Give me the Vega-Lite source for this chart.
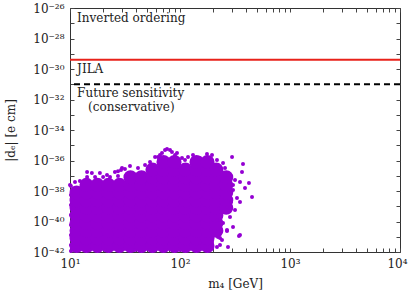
{
  "$schema": "https://vega.github.io/schema/vega-lite/v6.json",
  "width": 330,
  "height": 244,
  "autosize": {"type": "none"},
  "padding": {"left": 70, "top": 8, "right": 9, "bottom": 41},
  "background": "white",
  "config": {
    "view": {"stroke": "#333333", "strokeWidth": 1},
    "font": "DejaVu Serif",
    "axis": {"grid": false, "domain": false, "tickColor": "#444444", "labelFont": "DejaVu Serif", "labelFontSize": 12, "labelColor": "#222222", "titleFont": "DejaVu Serif", "titleFontSize": 12, "titleFontWeight": "normal", "titleColor": "#222222"}
  },
  "datasets": {
    "core": [
      {"m": 11.48, "d": 2.51e-42}, {"m": 11.48, "d": 7.94e-42}, {"m": 11.48, "d": 2.51e-41}, {"m": 11.48, "d": 7.94e-41}, {"m": 11.48, "d": 2.51e-40}, {"m": 11.48, "d": 7.94e-40}, {"m": 11.48, "d": 2.51e-39}, {"m": 11.48, "d": 7.94e-39},
      {"m": 14.13, "d": 2.51e-42}, {"m": 14.13, "d": 7.94e-42}, {"m": 14.13, "d": 2.51e-41}, {"m": 14.13, "d": 7.94e-41}, {"m": 14.13, "d": 2.51e-40}, {"m": 14.13, "d": 7.94e-40}, {"m": 14.13, "d": 2.51e-39}, {"m": 14.13, "d": 7.94e-39}, {"m": 14.13, "d": 2.51e-38},
      {"m": 17.78, "d": 2.51e-42}, {"m": 17.78, "d": 7.94e-42}, {"m": 17.78, "d": 2.51e-41}, {"m": 17.78, "d": 7.94e-41}, {"m": 17.78, "d": 2.51e-40}, {"m": 17.78, "d": 7.94e-40}, {"m": 17.78, "d": 2.51e-39}, {"m": 17.78, "d": 7.94e-39}, {"m": 17.78, "d": 2.51e-38},
      {"m": 22.39, "d": 2.51e-42}, {"m": 22.39, "d": 7.94e-42}, {"m": 22.39, "d": 2.51e-41}, {"m": 22.39, "d": 7.94e-41}, {"m": 22.39, "d": 2.51e-40}, {"m": 22.39, "d": 7.94e-40}, {"m": 22.39, "d": 2.51e-39}, {"m": 22.39, "d": 7.94e-39}, {"m": 22.39, "d": 2.51e-38},
      {"m": 28.18, "d": 2.51e-42}, {"m": 28.18, "d": 7.94e-42}, {"m": 28.18, "d": 2.51e-41}, {"m": 28.18, "d": 7.94e-41}, {"m": 28.18, "d": 2.51e-40}, {"m": 28.18, "d": 7.94e-40}, {"m": 28.18, "d": 2.51e-39}, {"m": 28.18, "d": 7.94e-39}, {"m": 28.18, "d": 2.51e-38},
      {"m": 35.48, "d": 2.51e-42}, {"m": 35.48, "d": 7.94e-42}, {"m": 35.48, "d": 2.51e-41}, {"m": 35.48, "d": 7.94e-41}, {"m": 35.48, "d": 2.51e-40}, {"m": 35.48, "d": 7.94e-40}, {"m": 35.48, "d": 2.51e-39}, {"m": 35.48, "d": 7.94e-39}, {"m": 35.48, "d": 2.51e-38}, {"m": 35.48, "d": 7.94e-38},
      {"m": 44.67, "d": 2.51e-42}, {"m": 44.67, "d": 7.94e-42}, {"m": 44.67, "d": 2.51e-41}, {"m": 44.67, "d": 7.94e-41}, {"m": 44.67, "d": 2.51e-40}, {"m": 44.67, "d": 7.94e-40}, {"m": 44.67, "d": 2.51e-39}, {"m": 44.67, "d": 7.94e-39}, {"m": 44.67, "d": 2.51e-38}, {"m": 44.67, "d": 7.94e-38},
      {"m": 56.23, "d": 2.51e-42}, {"m": 56.23, "d": 7.94e-42}, {"m": 56.23, "d": 2.51e-41}, {"m": 56.23, "d": 7.94e-41}, {"m": 56.23, "d": 2.51e-40}, {"m": 56.23, "d": 7.94e-40}, {"m": 56.23, "d": 2.51e-39}, {"m": 56.23, "d": 7.94e-39}, {"m": 56.23, "d": 2.51e-38}, {"m": 56.23, "d": 7.94e-38}, {"m": 56.23, "d": 2.51e-37},
      {"m": 70.79, "d": 2.51e-42}, {"m": 70.79, "d": 7.94e-42}, {"m": 70.79, "d": 2.51e-41}, {"m": 70.79, "d": 7.94e-41}, {"m": 70.79, "d": 2.51e-40}, {"m": 70.79, "d": 7.94e-40}, {"m": 70.79, "d": 2.51e-39}, {"m": 70.79, "d": 7.94e-39}, {"m": 70.79, "d": 2.51e-38}, {"m": 70.79, "d": 7.94e-38}, {"m": 70.79, "d": 2.51e-37}, {"m": 70.79, "d": 7.94e-37},
      {"m": 89.13, "d": 2.51e-42}, {"m": 89.13, "d": 7.94e-42}, {"m": 89.13, "d": 2.51e-41}, {"m": 89.13, "d": 7.94e-41}, {"m": 89.13, "d": 2.51e-40}, {"m": 89.13, "d": 7.94e-40}, {"m": 89.13, "d": 2.51e-39}, {"m": 89.13, "d": 7.94e-39}, {"m": 89.13, "d": 2.51e-38}, {"m": 89.13, "d": 7.94e-38}, {"m": 89.13, "d": 2.51e-37}, {"m": 89.13, "d": 7.94e-37},
      {"m": 112.2, "d": 2.51e-42}, {"m": 112.2, "d": 7.94e-42}, {"m": 112.2, "d": 2.51e-41}, {"m": 112.2, "d": 7.94e-41}, {"m": 112.2, "d": 2.51e-40}, {"m": 112.2, "d": 7.94e-40}, {"m": 112.2, "d": 2.51e-39}, {"m": 112.2, "d": 7.94e-39}, {"m": 112.2, "d": 2.51e-38}, {"m": 112.2, "d": 7.94e-38}, {"m": 112.2, "d": 2.51e-37},
      {"m": 141.3, "d": 2.51e-42}, {"m": 141.3, "d": 7.94e-42}, {"m": 141.3, "d": 2.51e-41}, {"m": 141.3, "d": 7.94e-41}, {"m": 141.3, "d": 2.51e-40}, {"m": 141.3, "d": 7.94e-40}, {"m": 141.3, "d": 2.51e-39}, {"m": 141.3, "d": 7.94e-39}, {"m": 141.3, "d": 2.51e-38}, {"m": 141.3, "d": 7.94e-38}, {"m": 141.3, "d": 2.51e-37}, {"m": 141.3, "d": 7.94e-37},
      {"m": 177.8, "d": 2.51e-42}, {"m": 177.8, "d": 7.94e-42}, {"m": 177.8, "d": 2.51e-41}, {"m": 177.8, "d": 7.94e-41}, {"m": 177.8, "d": 2.51e-40}, {"m": 177.8, "d": 7.94e-40}, {"m": 177.8, "d": 2.51e-39}, {"m": 177.8, "d": 7.94e-39}, {"m": 177.8, "d": 2.51e-38}, {"m": 177.8, "d": 7.94e-38}, {"m": 177.8, "d": 2.51e-37}, {"m": 177.8, "d": 7.94e-37},
      {"m": 213.8, "d": 2.51e-41}, {"m": 213.8, "d": 7.94e-41}, {"m": 213.8, "d": 2.51e-40}, {"m": 213.8, "d": 7.94e-40}, {"m": 213.8, "d": 2.51e-39}, {"m": 213.8, "d": 7.94e-39}, {"m": 213.8, "d": 2.51e-38}, {"m": 213.8, "d": 7.94e-38}, {"m": 213.8, "d": 2.51e-37},
      {"m": 263.0, "d": 7.94e-40}, {"m": 263.0, "d": 2.51e-39}, {"m": 263.0, "d": 7.94e-39}, {"m": 263.0, "d": 2.51e-38}, {"m": 263.0, "d": 7.94e-38}
    ],
    "edge": [
      {"m": 10.0, "d": 2.5e-38}, {"m": 11.1, "d": 3.9e-38}, {"m": 12.3, "d": 4.5e-38}, {"m": 14.3, "d": 1.78e-37}, {"m": 15.8, "d": 1.5e-37}, {"m": 18.7, "d": 1.5e-37}, {"m": 21.7, "d": 1.12e-37}, {"m": 25.6, "d": 1.78e-37}, {"m": 29.7, "d": 3.2e-37}, {"m": 35.1, "d": 4.4e-37},
      {"m": 41.5, "d": 3.2e-37}, {"m": 48.1, "d": 5.0e-37}, {"m": 53.4, "d": 7.9e-37}, {"m": 59.3, "d": 1.7e-36}, {"m": 65.8, "d": 2.3e-36}, {"m": 76.2, "d": 5.6e-36}, {"m": 84.5, "d": 3.6e-36}, {"m": 93.9, "d": 3.1e-36}, {"m": 104.3, "d": 1.45e-36}, {"m": 111.0, "d": 1.07e-36},
      {"m": 131.2, "d": 2.3e-36}, {"m": 152.0, "d": 1.45e-36}, {"m": 175.9, "d": 2.7e-36}, {"m": 195.4, "d": 2.3e-36}, {"m": 216.9, "d": 1.07e-36}, {"m": 246.2, "d": 6.9e-37}, {"m": 297.2, "d": 1.7e-36}, {"m": 366.2, "d": 1.78e-37}, {"m": 373.9, "d": 5.9e-37}, {"m": 423.6, "d": 3.3e-38},
      {"m": 451.6, "d": 4.1e-39}, {"m": 389.8, "d": 1.58e-38}, {"m": 303.4, "d": 1.17e-38}, {"m": 329.6, "d": 3.5e-39}, {"m": 273.1, "d": 1.5e-37}, {"m": 256.6, "d": 3.2e-37}, {"m": 351.1, "d": 1.9e-39}, {"m": 316.2, "d": 5.7e-40}, {"m": 284.8, "d": 2.0e-40}, {"m": 351.1, "d": 1.3e-41},
      {"m": 303.4, "d": 4.4e-41}, {"m": 267.5, "d": 2.8e-41}, {"m": 231.0, "d": 8.3e-42}, {"m": 273.1, "d": 2.1e-42}, {"m": 216.9, "d": 2.1e-42}, {"m": 195.4, "d": 4.5e-42}, {"m": 246.2, "d": 7.9e-41}, {"m": 240.9, "d": 4.2e-40}, {"m": 216.9, "d": 1.26e-40}, {"m": 267.5, "d": 8.9e-40},
      {"m": 291.0, "d": 1.9e-39}, {"m": 199.5, "d": 1.3e-41}, {"m": 221.4, "d": 9.6e-42}, {"m": 240.9, "d": 6.2e-42}, {"m": 231.0, "d": 2.9e-42}, {"m": 343.6, "d": 1.12e-41}, {"m": 267.5, "d": 2.4e-41}, {"m": 152.0, "d": 3.9e-42},
      {"m": 10.2, "d": 2.1e-38}, {"m": 10.2, "d": 5.5e-39}, {"m": 10.2, "d": 1.2e-39}, {"m": 10.2, "d": 2.7e-40}, {"m": 10.2, "d": 5.9e-41}, {"m": 10.2, "d": 1.3e-41}, {"m": 10.2, "d": 2.9e-42}, {"m": 10.2, "d": 1.17e-42},
      {"m": 11.1, "d": 1.35e-42}, {"m": 15.2, "d": 1.35e-42}, {"m": 20.8, "d": 1.35e-42}, {"m": 28.5, "d": 1.35e-42}, {"m": 39.0, "d": 1.35e-42}, {"m": 53.4, "d": 1.35e-42}, {"m": 73.1, "d": 1.35e-42}, {"m": 100, "d": 1.35e-42}, {"m": 136.8, "d": 1.35e-42}, {"m": 179.8, "d": 1.35e-42},
      {"m": 208, "d": 5.0e-37}, {"m": 316.2, "d": 5.2e-38}, {"m": 303.4, "d": 2.5e-38}, {"m": 351.1, "d": 3.9e-38},
      {"m": 73.1, "d": 4.9e-36}, {"m": 81.1, "d": 4.9e-36}, {"m": 68.6, "d": 3.1e-36}, {"m": 90.1, "d": 2.3e-36}, {"m": 63.0, "d": 1.7e-36}, {"m": 118.3, "d": 1.7e-36},
      {"m": 27.3, "d": 2.0e-37}, {"m": 29.1, "d": 2.4e-37}, {"m": 31.6, "d": 2.8e-37}, {"m": 27.3, "d": 9.5e-38},
      {"m": 14.3, "d": 8.3e-38}, {"m": 16.9, "d": 8.3e-38}, {"m": 20.0, "d": 8.3e-38}, {"m": 23.1, "d": 8.3e-38}
    ]
  },
  "layer": [
    {
      "data": {"name": "core"},
      "mark": {"type": "circle", "size": 200, "color": "#9400d3", "opacity": 1},
      "encoding": {
        "x": {"field": "m", "type": "quantitative", "scale": {"type": "log", "domain": [10, 10000]},
          "axis": {"orient": "bottom", "values": [10,20,30,40,50,60,70,80,90,100,200,300,400,500,600,700,800,900,1000,2000,3000,4000,5000,6000,7000,8000,9000,10000],
            "labelExpr": "datum.value == 10 ? '10¹' : datum.value == 100 ? '10²' : datum.value == 1000 ? '10³' : datum.value == 10000 ? '10⁴' : ''",
            "labelOffset": {"condition": {"test": "datum.value == 10000", "value": -3}, "value": 0},
            "tickSize": -4, "labelPadding": 10, "labelFlush": false, "labelOverlap": false,
            "title": "m₄ [GeV]", "titleY": 31, "titleBaseline": "middle"}},
        "y": {"field": "d", "type": "quantitative", "scale": {"type": "log", "domain": [1e-42, 1e-26]},
          "axis": {"orient": "left", "values": [1e-42,1e-41,1e-40,1e-39,1e-38,1e-37,1e-36,1e-35,1e-34,1e-33,1e-32,1e-31,1e-30,1e-29,1e-28,1e-27,1e-26],
            "labelExpr": "indexof([1e-42,1e-40,1e-38,1e-36,1e-34,1e-32,1e-30,1e-28,1e-26], datum.value) < 0 ? '' : ['10⁻⁴²','10⁻⁴⁰','10⁻³⁸','10⁻³⁶','10⁻³⁴','10⁻³²','10⁻³⁰','10⁻²⁸','10⁻²⁶'][indexof([1e-42,1e-40,1e-38,1e-36,1e-34,1e-32,1e-30,1e-28,1e-26], datum.value)]",
            "tickSize": -4, "labelPadding": 10, "labelFlush": false, "labelOverlap": false,
            "title": "|dₑ| [e cm]", "titleX": -60, "titleY": 122, "titleAngle": -90, "titleBaseline": "middle", "titleAlign": "center"}}
      }
    },
    {
      "data": {"name": "edge"},
      "mark": {"type": "circle", "size": 16, "color": "#9400d3", "opacity": 1},
      "encoding": {
        "x": {"field": "m", "type": "quantitative", "scale": {"type": "log", "domain": [10, 10000]},
          "axis": {"orient": "top", "values": [10,20,30,40,50,60,70,80,90,100,200,300,400,500,600,700,800,900,1000,2000,3000,4000,5000,6000,7000,8000,9000,10000], "labels": false, "tickSize": -4, "title": null}},
        "y": {"field": "d", "type": "quantitative", "scale": {"type": "log", "domain": [1e-42, 1e-26]},
          "axis": {"orient": "right", "values": [1e-42,1e-41,1e-40,1e-39,1e-38,1e-37,1e-36,1e-35,1e-34,1e-33,1e-32,1e-31,1e-30,1e-29,1e-28,1e-27,1e-26], "labels": false, "tickSize": -4, "title": null}}
      }
    },
    {
      "data": {"values": [{"d": 4.1e-30}]},
      "mark": {"type": "rule", "color": "#e8221a", "strokeWidth": 2},
      "encoding": {"y": {"field": "d", "type": "quantitative", "scale": {"type": "log", "domain": [1e-42, 1e-26]}, "axis": null}}
    },
    {
      "data": {"values": [{"d": 1e-31}]},
      "mark": {"type": "rule", "color": "#000000", "strokeWidth": 2, "strokeDash": [6, 4]},
      "encoding": {"y": {"field": "d", "type": "quantitative", "scale": {"type": "log", "domain": [1e-42, 1e-26]}, "axis": null}}
    },
    {
      "data": {"values": [
        {"t": "Inverted ordering", "m": 11.6, "d": 2.2e-27},
        {"t": "JILA", "m": 11.6, "d": 1.07e-30},
        {"t": "Future sensitivity", "m": 11.6, "d": 2.7e-32},
        {"t": "(conservative)", "m": 14.6, "d": 3.2e-33}
      ]},
      "mark": {"type": "text", "align": "left", "baseline": "middle", "font": "DejaVu Serif", "fontSize": 12, "color": "#222222"},
      "encoding": {
        "x": {"field": "m", "type": "quantitative", "scale": {"type": "log", "domain": [10, 10000]}, "axis": null},
        "y": {"field": "d", "type": "quantitative", "scale": {"type": "log", "domain": [1e-42, 1e-26]}, "axis": null},
        "text": {"field": "t"}
      }
    }
  ],
  "resolve": {"scale": {"x": "independent", "y": "independent"}}
}
